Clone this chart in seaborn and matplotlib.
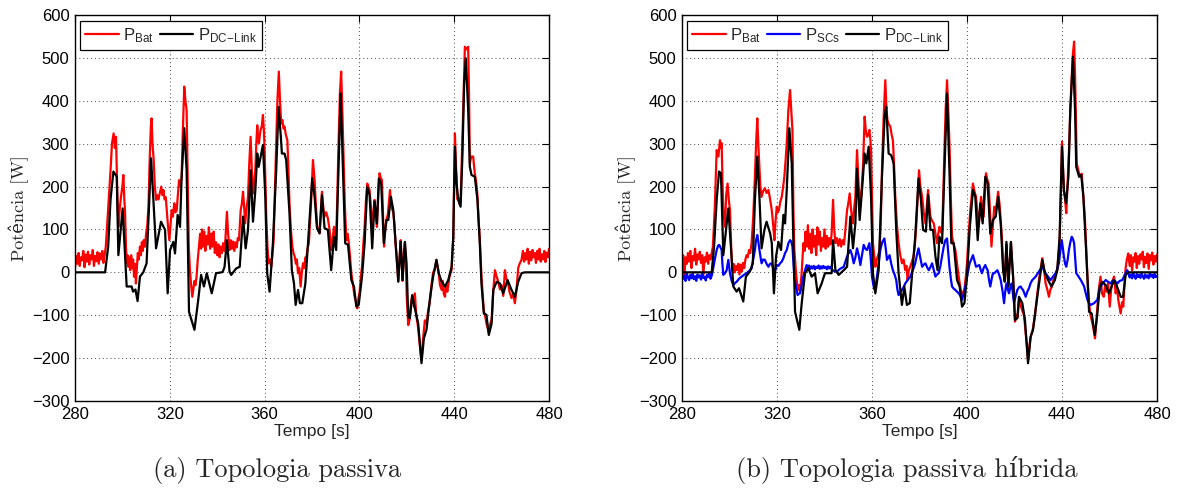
import matplotlib
matplotlib.use("Agg")
import matplotlib.pyplot as plt
from matplotlib.lines import Line2D
import seaborn as sns
import numpy as np

# ---------------- data (time [s], power [W]) ----------------
A_BAT = [(280,10),(280.5,38),(281,20),(281.5,45),(282,15),(282.5,35),(283,28),(283.5,50),(284,12),(284.5,42),
 (285,25),(285.5,48),(286,18),(286.5,40),(287,30),(287.5,52),(288,15),(288.5,38),(289,26),(289.5,47),
 (290,20),(290.5,44),(291,30),(291.5,50),(292,22),(292.5,40),(293,60),(294,150),(295,238),(295.6,300),
 (296.3,324),(296.8,290),(297.3,316),(297.8,200),(298.3,106),(298.9,150),(299.4,176),(300,200),(300.4,227),
 (300.8,170),(301.1,145),(301.5,60),(301.8,21),(302.2,40),(302.5,13),(302.9,35),(303.3,5),(303.7,40),
 (304.1,10),(304.5,30),(304.9,-10),(305.3,20),(305.7,-26),(306.1,10),(306.5,45),(306.9,30),(307.4,60),
 (307.8,40),(308.2,70),(308.6,50),(309.0,75),(309.5,60),(310.0,90),(310.5,110),(311.0,153),(311.5,260),
 (312.0,340),(312.3,359),(312.7,300),(313.2,262),(313.7,200),(314.2,169),(314.7,180),(315.2,170),(315.9,188),
 (316.4,200),(316.9,180),(317.3,192),(317.8,170),(318.3,175),(318.7,145),(319.2,110),(319.8,75),(320.3,110),
 (320.8,145),(321.3,130),(321.9,161),(322.4,140),(322.9,145),(323.4,180),(323.9,215),(324.4,200),(325.0,223),
 (325.5,330),(326.1,433),(326.6,400),(327.1,378),(327.6,200),(328.0,60),(328.5,5),(329.0,-30),(329.5,-57),
 (329.9,-40),(330.4,-20),(330.8,-30),(331.3,-10),(331.8,30),(332.3,60),(332.8,90),(333.2,55),(333.6,100),
 (334.0,60),(334.5,95),(335.0,50),(335.5,85),(336.0,65),(336.5,105),(337.0,55),(337.5,90),(338.0,60),
 (338.5,95),(339.0,45),(339.5,70),(340.0,40),(340.5,65),(341.0,35),(341.5,60),(342.0,45),(342.5,68),
 (343.0,50),(343.5,80),(344.1,141),(344.6,90),(345.2,52),(345.7,75),(346.2,55),(346.7,72),(347.2,50),
 (347.7,70),(348.2,58),(348.7,80),(349.2,75),(349.9,145),(350.4,160),(350.9,188),(351.4,150),(351.8,114),
 (352.4,150),(353.0,176),(353.5,250),(354.1,316),(354.6,240),(355.1,184),(355.6,210),(356.1,238),(356.5,300),
 (356.9,343),(357.3,310),(357.6,301),(358.0,320),(358.3,332),(358.8,340),(359.3,367),(359.7,330),(360.0,285),
 (360.4,200),(360.7,130),(361.2,60),(361.7,21),(362.2,30),(362.8,13),(363.3,40),(363.8,75),(364.3,180),
 (364.9,301),(365.4,400),(366.0,468),(366.5,400),(367.0,347),(367.5,355),(368.0,335),(368.4,340),(369.0,320),
 (369.6,308),(370.0,250),(370.5,161),(371.1,100),(371.7,60),(372.2,45),(372.7,37),(373.2,20),(373.6,30),
 (374.1,-2),(374.6,10),(375.2,-33),(375.7,0),(376.2,21),(376.7,10),(377.2,35),(377.6,33),(378.1,55),
 (378.7,68),(379.5,150),(380.4,262),(381.1,215),(381.6,160),(382.2,106),(382.7,100),(383.2,91),(383.7,140),
 (384.2,188),(384.8,150),(385.3,130),(386.0,140),(386.7,126),(387.4,100),(388.1,52),(388.7,80),(389.3,106),
 (389.8,90),(390.2,75),(390.7,180),(391.2,301),(391.8,420),(392.3,468),(392.8,380),(393.3,270),(393.9,150),
 (394.5,75),(395.0,90),(395.4,75),(396.0,40),(396.6,-2),(397.3,-30),(398.0,-57),(398.6,-70),(399.1,-84),
 (399.6,-60),(400.1,-45),(400.6,-10),(401.1,13),(401.6,60),(402.2,106),(402.8,170),(403.3,207),(403.8,200),
 (404.3,192),(404.9,150),(405.4,106),(405.9,140),(406.4,169),(406.9,130),(407.4,106),(407.9,170),(408.5,231),
 (409.0,220),(409.5,215),(410.0,130),(410.4,60),(410.9,100),(411.4,122),(412.0,135),(412.9,192),(413.6,150),
 (414.3,140),(414.8,110),(415.2,70),(415.8,30),(416.4,-20),(417.0,40),(417.4,75),(417.9,20),(418.2,-20),
 (418.7,40),(419.2,70),(419.6,20),(420.0,-60),(420.6,-123),(421.2,-110),(421.8,-70),(422.3,-55),(423.0,-80),
 (423.4,-49),(424.0,-100),(424.8,-130),(425.5,-170),(426.2,-204),(426.8,-160),(427.6,-112),(428.3,-120),
 (429.0,-90),(429.7,-70),(430.4,-30),(431.1,0),(431.8,5),(432.5,29),(433.1,10),(433.5,-5),(434.0,-30),
 (434.7,-41),(435.2,-20),(435.6,-50),(436.1,-57),(436.6,-30),(437.1,-45),(437.5,-30),(438.0,-10),(438.9,5),
 (439.6,80),(440.3,324),(440.8,240),(441.4,170),(441.7,175),(442.2,160),(442.7,165),(443.2,260),(443.8,378),
 (444.5,526),(445.2,520),(445.9,526),(446.3,400),(446.6,254),(447.2,270),(448.0,270),(448.7,230),(449.3,210),
 (449.8,180),(450.3,120),(450.8,80),(451.5,-10),(452.5,-90),(453.0,-100),(453.6,-119),(454.1,-130),
 (454.6,-140),(455.2,-120),(455.8,-110),(456.5,-40),(457.2,5),(457.9,-10),(458.5,-20),(459.3,-40),(460.0,-30),
 (460.7,-55),(461.4,5),(462.0,-15),(462.6,-20),(463.3,-45),(464.2,-60),(464.9,-50),(465.6,-72),(466.3,-40),
 (467.0,10),(467.6,20),(468.4,29),(469.0,50),(469.5,25),(470.0,45),(470.5,30),(471.0,55),(471.5,20),
 (472.0,48),(472.5,28),(473.0,52),(473.5,35),(474.0,45),(474.5,22),(475.0,50),(475.5,30),(476.0,55),
 (476.5,25),(477.0,42),(477.5,30),(478.0,50),(478.5,24),(479.0,46),(479.5,35),(480.0,55)]

A_DC = [(280,0),(292.7,0),(294,60),(295,170),(296.2,235),(297.6,223),(298.3,40),(300.1,149),(301.8,-33),
 (303.9,-33),(304.5,-45),(305.5,-40),(306.4,-67),(307.4,-10),(308.8,0),(310.2,21),(312.1,266),(313,176),
 (314.2,56),(316.3,118),(318,99),(319.1,-49),(320.1,52),(321.5,71),(322.2,44),(323.3,134),(324.3,106),
 (325,223),(326.1,336),(327.1,238),(328.1,-92),(330.4,-134),(332,-64),(333.2,-6),(334.4,-33),(335.6,-2),
 (337.7,-49),(339.5,-2),(341.9,0),(342.4,2),(343.1,13),(344.1,75),(345.2,2),(345.9,-6),(348,9),(349.5,13),
 (350.9,130),(352,56),(353,99),(354.1,238),(355.1,118),(356.1,192),(356.9,277),(357.5,246),(358.2,266),
 (359.3,297),(360.3,176),(361.1,-2),(362.1,-45),(363.5,68),(364.9,238),(365.9,386),(366.8,320),(367.3,277),
 (368.4,277),(369.1,262),(370.5,138),(371.5,5),(372.4,-26),(373.1,-76),(374.1,-41),(374.9,-72),(375.9,-72),
 (377.2,-26),(378.3,68),(380.1,219),(381.1,176),(382.1,103),(383.2,91),(384.2,180),(385.3,103),(386.7,99),
 (388.1,5),(389.3,83),(390.2,52),(391.2,246),(392.1,417),(393.1,231),(394,68),(395.2,64),(396.6,-18),
 (397.7,-33),(398.7,-80),(399.7,-76),(401.1,-10),(402.2,68),(403.3,199),(404.3,180),(405.4,56),(406.4,165),
 (407.4,114),(408.2,219),(409.2,207),(410.3,68),(411.4,122),(412.2,122),(413.3,176),(414.3,145),(415.2,75),
 (416.4,-22),(417.4,71),(418.2,-18),(419.2,71),(419.9,21),(420.6,-103),(421.3,-107),(422.3,-53),(423.4,-84),
 (424.8,-119),(426.2,-212),(427.2,-154),(428.3,-134),(429.7,-64),(431.1,-10),(432.5,29),(433.5,-2),
 (434.7,-22),(436.1,-33),(437.5,-18),(438.9,13),(439.6,83),(440.3,293),(441,207),(441.7,169),(442.7,153),
 (443.5,277),(444.2,441),(444.9,499),(445.9,378),(446.6,246),(447.3,227),(448.7,223),(449.8,169),(450.8,68),
 (451.5,-26),(452.5,-96),(453.6,-99),(454.6,-146),(455.8,-119),(456.5,-41),(457.9,-22),(459.3,-26),
 (460.7,-49),(462.5,-18),(464.2,-41),(465.6,-57),(467,-22),(468.4,-2),(469.8,0),(480,0)]

B_BAT = [(280,15),(280.5,40),(281,-10),(281.5,35),(282,20),(282.5,45),(283,25),(283.5,50),(284,10),(284.5,38),
 (285,28),(285.5,55),(286,18),(286.5,42),(287,30),(287.5,48),(288,22),(288.5,40),(289,-5),(289.5,35),
 (290,25),(290.5,46),(291,20),(291.5,40),(292,30),(292.5,45),(293.0,60),(293.8,150),(294.6,285),(295.3,270),
 (296.0,308),(296.4,290),(296.7,301),(297.0,220),(297.4,145),(298.1,106),(298.6,180),(299.2,207),(299.7,170),
 (300.2,145),(300.7,60),(301.2,5),(301.7,20),(302.2,0),(302.7,15),(303.2,5),(303.7,20),(304.2,-5),(304.7,18),
 (305.2,2),(305.7,22),(306.2,10),(306.7,30),(307.2,40),(307.7,35),(308.2,52),(308.7,45),(309.3,68),(310.0,130),
 (310.7,223),(311.2,300),(311.7,359),(312.2,290),(312.6,246),(313.0,200),(313.5,176),(314.2,190),(314.9,196),
 (315.6,185),(316.4,192),(317.1,170),(317.8,145),(318.4,110),(318.9,75),(319.4,120),(319.9,153),(320.4,140),
 (320.8,145),(321.4,165),(322.0,176),(322.6,200),(323.1,223),(323.6,260),(324.1,301),(324.8,380),(325.5,425),
 (326.0,380),(326.5,332),(326.9,150),(327.3,52),(328.0,0),(328.7,-41),(329.2,-30),(329.7,-45),(330.4,0),
 (331.1,68),(331.6,50),(332.0,95),(332.5,60),(333.0,110),(333.5,55),(334.0,90),(334.5,45),(335.0,100),
 (335.5,60),(336.0,85),(336.5,40),(337.0,105),(337.5,65),(338.0,95),(338.5,50),(339.0,80),(339.5,60),
 (340.0,100),(340.5,55),(341.0,85),(341.5,60),(342.0,80),(342.5,65),(343.0,90),(343.6,169),(344.1,100),
 (344.6,68),(345.2,80),(345.8,62),(346.4,78),(347.0,60),(347.6,75),(348.2,65),(348.8,100),(349.5,145),
 (350.0,160),(350.6,184),(351.3,140),(352.0,114),(352.5,150),(353.0,176),(353.7,285),(354.4,200),(355.1,153),
 (355.7,200),(356.2,246),(356.9,363),(357.4,330),(357.9,316),(358.4,320),(358.9,332),(359.3,310),(359.6,285),
 (360.0,170),(360.4,68),(360.9,40),(361.4,13),(362.0,30),(362.6,40),(363.2,52),(363.7,120),(364.2,238),
 (364.9,360),(365.6,448),(366.1,380),(366.5,355),(367.1,345),(367.7,340),(368.3,320),(368.8,308),(369.3,250),
 (369.8,176),(370.5,110),(371.2,68),(371.9,40),(372.6,21),(373.3,30),(374.0,5),(374.5,15),(375.0,-18),
 (375.5,5),(376.1,13),(376.8,25),(377.5,37),(378.0,60),(378.6,106),(379.2,170),(379.8,238),(380.4,200),
 (381.1,176),(381.8,140),(382.5,114),(383.0,150),(383.6,192),(384.1,160),(384.6,130),(385.3,120),(386.0,114),
 (386.7,90),(387.4,68),(387.9,90),(388.4,106),(388.9,95),(389.5,91),(390.0,180),(390.5,285),(391.0,380),
 (391.6,448),(392.1,380),(392.7,285),(393.2,170),(393.7,83),(394.4,65),(395.1,52),(395.8,20),(396.5,-10),
 (397.2,-35),(397.9,-57),(398.4,-45),(398.9,-41),(399.5,-10),(400.0,21),(400.7,90),(401.4,145),(402.0,180),
 (402.5,207),(403.1,190),(403.8,176),(404.4,140),(404.9,106),(405.4,140),(405.9,176),(406.5,150),(407.0,130),
 (407.5,180),(408.0,231),(408.6,215),(409.1,207),(409.8,130),(410.3,60),(410.9,110),(411.5,153),(412.1,140),
 (413.1,188),(413.7,160),(414.2,120),(414.7,80),(415.2,20),(415.9,-20),(416.6,65),(417.0,10),(417.4,-30),
 (418.0,30),(418.5,70),(419.0,20),(419.4,-10),(420.2,-115),(420.8,-100),(421.3,-105),(421.9,-65),(422.5,-75),
 (423.2,-88),(424.0,-100),(424.7,-140),(425.2,-170),(425.7,-204),(426.3,-170),(426.8,-150),(427.4,-140),
 (427.8,-130),(428.6,-100),(429.6,-50),(430.5,-10),(431.2,15),(431.7,33),(432.4,10),(433.1,-26),(433.8,-40),
 (434.5,-57),(435.1,-40),(435.6,-35),(436.3,-20),(437.0,-10),(438.0,5),(439.0,70),(440.0,305),(440.5,230),
 (440.8,192),(441.3,170),(441.8,138),(442.3,200),(442.9,277),(443.5,380),(444.1,456),(444.6,510),(445.1,538),
 (445.5,460),(445.8,378),(446.2,254),(446.8,240),(447.5,223),(448.3,230),(449.0,176),(449.6,130),(450.0,78),
 (450.7,-10),(451.4,-72),(452.0,-100),(452.5,-111),(453.2,-130),(453.9,-154),(454.4,-120),(454.9,-80),
 (455.5,-40),(456.2,-10),(456.9,-50),(457.6,-57),(458.2,-30),(458.8,-45),(459.4,-25),(460.1,-80),(460.7,-40),
 (461.3,-20),(461.9,-10),(462.6,-49),(463.1,-30),(463.7,-64),(464.2,-80),(464.7,-96),(465.3,-70),(465.8,-80),
 (466.3,-30),(466.8,10),(467.3,30),(467.9,44),(468.5,15),(469.0,40),(469.5,5),(470.0,35),(470.5,25),
 (471.0,45),(471.5,10),(472.0,38),(472.5,20),(473.0,42),(473.5,30),(474.0,48),(474.5,12),(475.0,36),
 (475.5,22),(476.0,44),(476.5,8),(477.0,40),(477.5,28),(478.0,46),(478.5,18),(479.0,38),(479.5,25),(480.0,42)]

B_SC = [(280,-5),(280.5,-15),(281,-8),(281.5,-20),(282,-2),(282.5,-12),(283,-18),(283.5,-6),(284,-14),
 (284.5,-3),(285,-16),(285.5,-9),(286,-20),(286.5,-5),(287,-12),(287.5,-7),(288,-17),(288.5,-4),(289,-13),
 (289.5,-10),(290,-19),(290.5,-6),(291,-11),(291.5,-2),(292,-15),(292.5,-8),(293,5),(293.8,30),(294.6,52),
 (295.2,62),(295.7,64),(296.2,58),(296.7,52),(297.0,20),(297.4,-6),(298.1,-2),(298.8,5),(299.5,29),(300.2,-2),
 (300.9,-20),(301.6,-30),(302.3,-25),(303.0,-22),(304.0,-15),(305.1,-10),(306.1,-6),(307.2,-2),(308.2,3),
 (309.3,9),(310.0,30),(310.7,52),(311.2,75),(311.7,87),(312.2,70),(312.6,52),(313.1,35),(313.5,21),(314.2,30),
 (314.9,29),(315.6,20),(316.4,13),(317.1,20),(317.8,21),(318.4,10),(318.9,-2),(319.4,8),(319.9,17),(320.6,15),
 (321.3,21),(322.0,25),(322.7,33),(323.4,45),(324.1,52),(324.8,68),(325.5,75),(326.0,72),(326.5,60),(326.9,25),
 (327.3,-10),(328.0,-35),(328.7,-53),(329.2,-50),(329.7,-49),(330.4,-30),(331.1,-10),(331.8,5),(332.5,17),
 (333.0,10),(333.5,16),(334.0,8),(334.5,14),(335.0,9),(335.5,15),(336.0,7),(336.5,13),(337.0,10),(337.5,16),
 (338.0,8),(338.5,14),(339.0,9),(339.5,15),(340.0,10),(340.5,13),(341.0,7),(341.5,14),(342.0,9),(342.5,13),
 (343.4,5),(344.2,2),(345.3,2),(346.5,8),(348.1,13),(349.5,37),(350.2,45),(350.9,52),(351.6,40),(352.3,21),
 (353.0,35),(353.7,56),(354.4,40),(355.1,17),(355.8,40),(356.5,64),(357.2,55),(357.9,52),(358.4,60),(358.9,68),
 (359.5,30),(360.0,-10),(360.6,-30),(361.1,-41),(361.6,-30),(362.1,-10),(362.8,20),(363.5,52),(364.3,70),
 (365.2,79),(365.8,55),(366.3,29),(366.9,35),(367.4,40),(368.1,20),(368.8,5),(369.5,-5),(370.2,-18),
 (370.7,-40),(371.2,-53),(371.9,-45),(372.6,-41),(373.3,-35),(374.0,-26),(375.0,-18),(376.1,-10),(377.2,5),
 (378.2,21),(378.9,40),(379.6,56),(380.3,35),(381.1,13),(381.8,18),(382.5,21),(383.2,12),(383.9,5),(384.6,12),
 (385.3,21),(386.0,5),(386.7,-10),(387.4,-5),(388.1,-2),(388.8,15),(389.5,37),(390.2,60),(390.9,75),(391.6,79),
 (392.1,45),(392.6,13),(393.2,-15),(393.7,-33),(394.4,-38),(395.1,-41),(395.8,-45),(396.5,-49),(397.2,-55),
 (397.9,-64),(398.6,-50),(399.3,-33),(400.2,-5),(401.1,21),(401.8,30),(402.5,40),(403.1,28),(403.8,13),
 (404.5,15),(405.2,17),(405.8,5),(406.3,-2),(407.0,10),(407.7,17),(408.2,10),(408.7,5),(409.2,-15),(409.8,-33),
 (410.4,-15),(410.9,-2),(411.5,-2),(412.8,5),(413.5,-5),(414.2,-18),(415.0,-45),(415.6,-72),(416.1,-45),
 (416.6,-26),(417.2,-40),(417.7,-49),(418.2,-35),(418.8,-26),(419.3,-50),(419.8,-72),(420.5,-55),(421.2,-41),
 (421.9,-35),(422.6,-33),(423.1,-38),(423.6,-41),(424.2,-50),(424.7,-57),(425.4,-45),(426.1,-37),(426.8,-25),
 (427.5,-18),(428.2,-14),(428.9,-10),(429.6,-4),(430.3,2),(431.0,8),(431.7,13),(432.4,5),(433.1,-2),
 (434.1,-10),(435.2,-18),(436.2,-10),(437.3,-2),(438.0,8),(438.7,21),(439.3,50),(439.9,75),(440.4,55),
 (440.8,37),(441.3,20),(441.8,13),(442.4,30),(442.9,52),(443.5,70),(444.1,83),(444.6,78),(445.1,68),(445.6,30),
 (446.0,-2),(447.0,-10),(447.9,-18),(448.6,-25),(449.3,-33),(450.0,-48),(450.7,-64),(451.4,-72),(452.1,-76),
 (452.8,-74),(453.5,-72),(454.2,-68),(454.9,-64),(455.6,-45),(456.3,-33),(457.3,-25),(458.4,-18),(459.4,-22),
 (460.5,-26),(461.2,-20),(461.9,-18),(462.6,-22),(463.3,-26),(464.3,-20),(465.4,-18),(466.5,-5),(467.5,5),
 (468.0,-3),(468.5,-12),(469.0,-5),(469.5,-14),(470.0,-2),(470.5,-10),(471.0,-15),(471.5,-4),(472.0,-11),
 (472.5,-6),(473.0,-13),(473.5,-3),(474.0,-9),(474.5,-15),(475.0,-5),(475.5,-12),(476.0,-7),(476.5,-14),
 (477.0,-2),(477.5,-10),(478.0,-6),(478.5,-13),(479.0,-4),(479.5,-11),(480.0,-8)]

B_DC = [(280,0),(292.5,0),(293.5,60),(294.6,169),(295.6,235),(296.4,231),(297.4,40),(298.8,114),(299.5,149),
 (300.5,68),(301.6,-33),(303,-45),(304,-37),(305.8,-68),(306.9,-10),(308.6,2),(309.8,21),(310.7,169),
 (311.7,270),(312.6,176),(313.5,56),(314.7,99),(315.6,118),(317.1,91),(317.8,68),(318.7,-49),(319.6,37),
 (320.6,71),(321.7,52),(322.7,134),(323.4,114),(324.1,192),(325.2,336),(326.2,254),(326.9,68),(327.6,-92),
 (329.4,-134),(330.4,-72),(331.8,-2),(333.2,9),(334.6,-10),(336,-2),(337.1,-49),(338.8,-26),(340.2,-2),
 (343,-2),(343.6,75),(344.6,5),(346,-6),(348.1,5),(349.5,13),(350.9,130),(352,56),(353,114),(353.7,242),
 (354.8,122),(355.8,192),(356.9,277),(357.6,254),(358.6,293),(359.6,176),(360.4,-2),(361.4,-49),(362.8,5),
 (364.2,223),(365.3,363),(366,386),(367,277),(368.1,273),(369.1,254),(370.2,99),(371.2,-2),(372.6,-76),
 (373.6,-33),(374.7,-76),(375.9,-72),(376.8,-10),(378.2,83),(379.6,219),(380.6,169),(381.5,99),(382.7,95),
 (383.6,180),(384.6,99),(385.7,99),(386.7,37),(387.6,5),(388.4,83),(389.5,68),(390.5,238),(391.6,417),
 (392.6,238),(393.4,68),(394.4,68),(395.8,-18),(396.9,-33),(397.9,-80),(398.9,-72),(400,-10),(401.1,99),
 (402.5,192),(403.5,176),(404.5,75),(405.6,161),(406.6,114),(407.7,223),(408.7,207),(409.8,90),(410.9,122),
 (412.1,130),(413.1,176),(414.2,114),(415.2,5),(415.9,-22),(416.6,71),(417.4,-33),(418.5,71),(419.4,-10),
 (420.2,-111),(421.2,-107),(421.9,-57),(423.3,-72),(424.4,-111),(425.7,-212),(426.8,-150),(427.8,-134),
 (429.6,-57),(431.7,29),(432.8,-2),(434.5,-22),(435.6,-33),(437,-18),(438,5),(439,83),(440,293),(440.8,192),
 (441.7,161),(442.7,223),(443.5,378),(444.6,503),(445.5,378),(446,246),(447.2,223),(448.1,227),(449,176),
 (450,68),(451.4,-92),(452.5,-96),(453.8,-146),(454.9,-96),(455.9,-33),(457,-22),(458.4,-30),(459.8,-49),
 (461.9,-18),(463.7,-41),(464.7,-57),(465.7,-57),(466.8,-6),(467.9,0),(480,0)]

X_TICKS = [280, 320, 360, 400, 440, 480]
Y_TICKS = [-300, -200, -100, 0, 100, 200, 300, 400, 500, 600]
LBL_BAT = r'$\mathregular{P_{Bat}}$'
LBL_SC = r'$\mathregular{P_{SCs}}$'
LBL_DC = r'$\mathregular{P_{DC\!-\!Link}}$'
X_LABEL = 'Tempo [s]'
Y_LABEL = 'Potência [W]'
CAP_A = '(a) Topologia passiva'
CAP_B = '(b) Topologia passiva híbrida'

# ---------------- style ----------------
sns.set_style('white')
plt.rcParams['font.family'] = ['Liberation Sans', 'DejaVu Sans']
plt.rcParams['mathtext.fontset'] = 'custom'
plt.rcParams['mathtext.rm'] = 'Liberation Sans'
SERIF = ['cmr10', 'DejaVu Serif']

fig = plt.figure(figsize=(11.8, 4.88), dpi=100)
ax1 = fig.add_axes([75/1180, 87/488, 474/1180, 386/488])
ax2 = fig.add_axes([682/1180, 87/488, 475/1180, 386/488])


def draw(ax, series):
    for pts, col in series:
        t = [p[0] for p in pts]
        v = [p[1] for p in pts]
        sns.lineplot(x=t, y=v, ax=ax, color=col, linewidth=1.6, sort=False,
                     estimator=None, legend=False)


draw(ax1, [(A_BAT, '#ff0000'), (A_DC, '#000000')])
draw(ax2, [(B_BAT, '#ff0000'), (B_SC, '#0000ff'), (B_DC, '#000000')])

for ax in (ax1, ax2):
    ax.set_xlim(280, 480)
    ax.set_ylim(-300, 600)
    ax.set_xticks(X_TICKS)
    ax.set_yticks(Y_TICKS)
    ax.grid(True, linestyle=(0, (1, 3)), color='#444444', linewidth=0.7)
    ax.tick_params(direction='in', top=True, right=True, length=5, width=0.8,
                   labelsize=12, pad=4, colors='black')
    for s in ax.spines.values():
        s.set_color('black')
        s.set_linewidth(1.0)
    ax.set_xlabel(X_LABEL, fontsize=12.5, labelpad=2)
    ax.set_ylabel(Y_LABEL, fontsize=13, family=SERIF, labelpad=2)

h_bat = Line2D([], [], color='#ff0000', lw=1.6)
h_sc = Line2D([], [], color='#0000ff', lw=1.6)
h_dc = Line2D([], [], color='#000000', lw=1.6)
for ax, hs, ls in ((ax1, [h_bat, h_dc], [LBL_BAT, LBL_DC]),
                   (ax2, [h_bat, h_sc, h_dc], [LBL_BAT, LBL_SC, LBL_DC])):
    leg = ax.legend(hs, ls, loc='upper left', bbox_to_anchor=(0.011, 0.984),
                    borderaxespad=0, ncol=len(hs), fontsize=12, frameon=True,
                    fancybox=False, framealpha=1, edgecolor='black',
                    handlelength=2.0, handletextpad=0.25, columnspacing=0.4,
                    borderpad=0.3)
    leg.get_frame().set_linewidth(0.9)

fig.text(277/1180, 1 - 470/488, CAP_A, ha='center', va='center', fontsize=19, family=SERIF)
fig.text(907/1180, 1 - 470/488, CAP_B, ha='center', va='center', fontsize=19, family=SERIF)

fig.savefig('out.png', dpi=100)
